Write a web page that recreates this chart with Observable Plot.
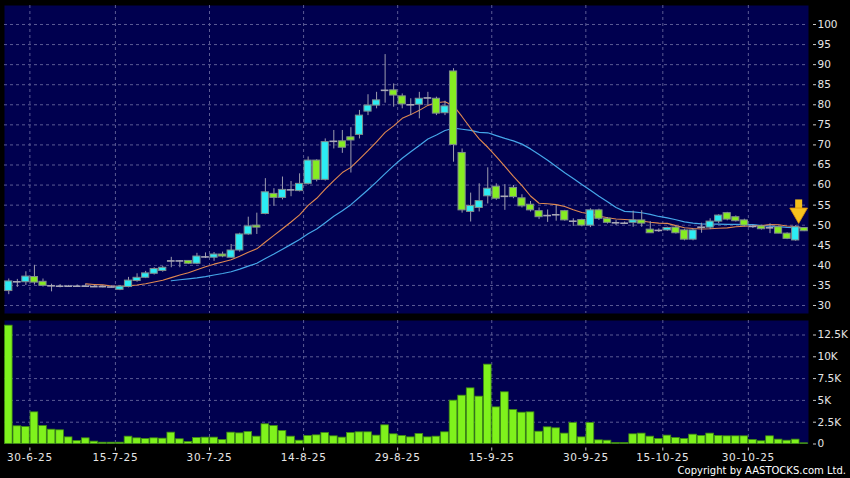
<!DOCTYPE html>
<html><head><meta charset="utf-8">
<script src="https://cdn.jsdelivr.net/npm/d3@7"></script>
<script src="https://cdn.jsdelivr.net/npm/@observablehq/plot@0.6"></script>
<style>
html,body{margin:0;padding:0;background:#000;}
#chart{position:relative;width:850px;height:478px;overflow:hidden;background:#000;}
#chart svg{display:block;}
#vol g[aria-label="x-axis tick label"] text{letter-spacing:0.7px;}
.copy{position:absolute;right:4px;top:465px;font:10px "DejaVu Sans";line-height:12px;color:#fff;white-space:nowrap;}
</style></head><body>
<div id="chart"><div id="price"></div><div id="vol"></div><div class="copy">Copyright by AASTOCKS.com Ltd.</div></div>
<script>
// ---- data ----
const dates = ["26-6-25","27-6-25","30-6-25","2-7-25","3-7-25","4-7-25","7-7-25","8-7-25","9-7-25","10-7-25",
"11-7-25","14-7-25","15-7-25","16-7-25","17-7-25","18-7-25","21-7-25","22-7-25","23-7-25","24-7-25",
"25-7-25","28-7-25","29-7-25","30-7-25","31-7-25","1-8-25","4-8-25","5-8-25","6-8-25","7-8-25",
"8-8-25","11-8-25","12-8-25","13-8-25","14-8-25","15-8-25","18-8-25","19-8-25","20-8-25","21-8-25",
"22-8-25","25-8-25","26-8-25","27-8-25","28-8-25","29-8-25","1-9-25","2-9-25","3-9-25","4-9-25",
"5-9-25","8-9-25","9-9-25","10-9-25","11-9-25","12-9-25","15-9-25","16-9-25","17-9-25","18-9-25",
"19-9-25","22-9-25","23-9-25","24-9-25","25-9-25","26-9-25","29-9-25","30-9-25","2-10-25","3-10-25",
"6-10-25","8-10-25","9-10-25","10-10-25","13-10-25","14-10-25","15-10-25","16-10-25","17-10-25","20-10-25",
"21-10-25","22-10-25","23-10-25","24-10-25","27-10-25","28-10-25","30-10-25","31-10-25","3-11-25","4-11-25",
"5-11-25","6-11-25","7-11-25","10-11-25"];
const opens = [33.6,35.9,35.8,37.1,35.9,34.9,34.8,34.8,34.8,34.8,
34.7,34.7,34.6,33.9,34.6,36.1,36.9,37.9,38.6,41.1,
41.1,41.1,40.4,42.1,41.9,42.7,41.9,43.7,47.7,49.9,
52.8,57.8,56.8,58.8,58.5,60.3,66.1,61.3,70.9,70.9,
71.9,72.5,78.3,79.8,83.6,83.6,82.1,80.0,80.0,81.7,
81.5,77.9,88.3,68.0,53.3,54.3,57.2,59.6,57.2,59.3,
56.7,55.1,53.5,52.4,52.6,53.5,51.0,51.3,49.9,53.7,
51.6,50.6,50.5,50.6,51.2,48.9,48.7,48.7,49.4,48.7,
46.4,49.5,49.4,50.9,53.0,52.0,51.2,49.7,49.7,49.35,
49.5,47.9,46.2,49.3];
const highs = [36.6,36.5,38.4,40.0,36.6,35.3,35.2,35.0,35.1,35.3,
35.0,34.9,34.9,34.9,37.0,37.9,38.5,39.4,39.7,42.0,
41.2,41.2,43.0,43.1,43.2,43.3,45.2,48.0,52.0,53.0,
61.6,59.1,62.0,60.9,62.8,67.0,66.3,71.5,73.6,73.6,
74.3,78.6,82.5,83.1,92.5,85.2,82.7,81.5,83.1,83.1,
81.9,80.9,89.0,69.0,58.0,60.3,64.3,60.3,60.1,59.9,
57.6,55.9,54.3,53.8,54.9,53.7,51.6,51.5,54.1,54.0,
51.9,51.2,50.8,53.5,53.6,50.9,49.1,49.5,49.8,49.0,
49.0,50.5,51.6,52.6,53.2,52.3,51.5,50.0,50.0,50.35,
49.7,48.1,49.9,49.4];
const lows = [32.7,34.5,35.0,35.1,34.6,33.4,34.4,34.6,34.5,34.5,
34.5,34.4,34.4,33.7,34.4,35.8,36.7,37.6,38.3,39.4,
39.4,40.2,40.2,41.7,41.0,41.9,41.8,43.3,47.5,47.7,
52.6,54.7,56.3,57.1,58.3,60.0,60.8,61.0,69.0,67.9,
63.0,71.5,77.3,79.0,80.4,79.4,79.0,77.3,76.5,79.8,
77.3,77.3,65.7,53.0,50.8,53.3,55.3,56.2,53.7,56.6,
54.3,53.3,51.4,50.7,51.0,51.0,49.7,49.6,49.4,51.2,
50.3,49.9,50.2,49.5,49.5,48.0,48.2,48.5,47.8,46.1,
46.1,48.0,48.9,50.4,51.1,50.8,49.6,49.2,48.8,47.9,
47.9,46.4,46.0,48.4];
const closes = [36.0,35.9,37.2,35.7,34.9,34.9,34.8,34.8,34.8,34.8,
34.7,34.7,34.6,34.7,36.2,36.9,38.0,39.1,39.4,41.1,
41.1,40.4,42.2,42.1,42.7,42.2,43.7,47.7,49.7,49.4,
58.2,56.8,58.8,58.8,60.3,66.1,61.3,70.7,70.9,69.3,
71.1,77.3,79.8,81.1,83.6,82.3,80.1,80.0,81.5,81.7,
77.8,79.6,70.0,53.7,54.8,56.0,59.1,56.6,57.2,57.0,
54.7,53.7,52.0,52.4,52.6,51.2,51.0,49.9,53.7,51.6,
50.6,50.6,50.5,51.2,50.4,48.0,48.7,49.3,48.0,46.4,
48.7,49.5,50.9,52.4,51.4,51.0,49.9,49.7,49.0,49.35,
47.9,46.6,49.5,48.5];
// volume in thousands of shares
const volumes = [13.57,2.03,1.95,3.63,2.06,1.64,1.57,0.76,0.34,0.65,
0.27,0.15,0.15,0.15,0.84,0.65,0.57,0.65,0.61,1.30,
0.54,0.23,0.69,0.73,0.73,0.46,1.30,1.22,1.38,0.84,
2.26,2.06,1.49,0.84,0.38,0.92,0.99,1.26,0.88,0.73,
1.26,1.34,1.34,0.96,2.14,1.11,0.92,0.76,1.15,0.76,
0.84,1.34,4.97,5.54,6.38,5.43,9.10,4.20,5.93,3.90,
3.59,3.63,1.41,1.91,1.80,1.19,2.41,0.76,2.41,0.42,
0.38,0.11,0.11,1.11,1.19,0.84,0.57,0.96,0.69,0.57,
1.07,0.92,1.19,0.92,0.88,0.88,0.88,0.46,0.31,0.88,
0.50,0.38,0.50,0.08];
const tickDates = ["30-6-25","15-7-25","30-7-25","14-8-25","29-8-25","15-9-25","30-9-25","15-10-25","30-10-25"];
const priceTicks = [30,35,40,45,50,55,60,65,70,75,80,85,90,95,100];
const volTicks = [0,2.5,5,7.5,10,12.5];
const volTickLabels = ["0","2.5K","5K","7.5K","10K","12.5K"];
const arrowNote = [{date: "7-11-25", tip: 50.8, tail: 56.3}];

// ---- build ----
const rows = dates.map((d, i) => ({i, date: d, open: opens[i], high: highs[i], low: lows[i], close: closes[i], vol: volumes[i]}));
const tickIdx = tickDates.map(d => dates.indexOf(d));
const arrows = arrowNote.map(a => ({...a, i: dates.indexOf(a.date)}));
const NAVY = "#00004f", GRID = "#5b5b94", UP = "#2cecf4", DOWN = "#86ec22", EDGE = "#7f8c8c";
const font = {background: "transparent", color: "#e6e6e6", fontFamily: "'DejaVu Sans'", fontSize: "10.5px", overflow: "visible"};
const xScale = {type: "linear", domain: [-0.5, 93.5], axis: null};

const price = Plot.plot({
  width: 850, height: 316,
  marginLeft: 4, marginRight: 42, marginTop: 5, marginBottom: 3,
  style: font,
  x: xScale,
  y: {domain: [28.007, 104.733], axis: null},
  marks: [
    Plot.frame({fill: NAVY}),
    Plot.ruleY(priceTicks, {stroke: GRID, strokeDasharray: "3,3"}),
    Plot.ruleX(tickIdx, {dx: 4, stroke: GRID, strokeDasharray: "3,3"}),
    Plot.lineY(rows, Plot.windowY({k: 20, anchor: "end", strict: true}, {x: "i", y: "close", stroke: "#45a6e8", strokeWidth: 1.2})),
    Plot.lineY(rows, Plot.windowY({k: 10, anchor: "end", strict: true}, {x: "i", y: "close", stroke: "#e08850", strokeWidth: 1.1})),
    Plot.ruleX(rows, {x: "i", y1: "low", y2: "high", stroke: "#9c9cae", strokeWidth: 1}),
    Plot.rect(rows.filter(d => d.open !== d.close), {
      x1: d => d.i - 0.42, x2: d => d.i + 0.42, y1: "open", y2: "close",
      fill: d => d.close > d.open ? UP : DOWN, stroke: EDGE, strokeWidth: 1
    }),
    Plot.ruleY(rows.filter(d => d.open === d.close), {
      y: "open", x1: d => d.i - 0.45, x2: d => d.i + 0.45, stroke: "#a9a9b6", strokeWidth: 1.6
    }),
    Plot.ruleX(arrows, {x: "i", y1: "tail", y2: d => d.tip + 3.0, dx: 3, stroke: "#f2bf1c", strokeWidth: 7}),
    Plot.dot(arrows, {x: "i", y: d => d.tip + 2.2, dx: 3, symbol: "triangle", rotate: 180, r: 6.6, fill: "#f6c21e", stroke: "#d98c08", strokeWidth: 0.8}),
    Plot.axisY(priceTicks, {anchor: "right", label: null, tickSize: 3, tickPadding: 2, dx: 4, stroke: "#c8c8c8", fill: "#e6e6e6"})
  ]
});

const vol = Plot.plot({
  width: 850, height: 162,
  marginLeft: 4, marginRight: 42, marginTop: 4, marginBottom: 34.5,
  style: font,
  x: xScale,
  y: {domain: [0, 14.163], axis: null},
  marks: [
    Plot.frame({fill: NAVY}),
    Plot.ruleY(volTicks.filter(v => v > 0), {stroke: GRID, strokeDasharray: "3,3"}),
    Plot.ruleX(tickIdx, {dx: 4, stroke: GRID, strokeDasharray: "3,3"}),
    Plot.rect(rows, {x1: d => d.i - 0.45, x2: d => d.i + 0.45, y1: 0, y2: "vol", fill: "#7ff21c", stroke: "#3f8c12", strokeWidth: 0.8}),
    Plot.axisY(volTicks, {anchor: "right", label: null, tickSize: 3, tickPadding: 2, dx: 4, tickFormat: d => volTickLabels[volTicks.indexOf(d)], stroke: "#c8c8c8", fill: "#e6e6e6"}),
    Plot.axisX(tickIdx, {anchor: "bottom", label: null, tickSize: 3, tickPadding: 3, dx: 4, dy: 4, tickFormat: i => dates[i], stroke: "#c8c8c8", fill: "#e6e6e6"})
  ]
});

document.getElementById("price").append(price);
document.getElementById("vol").append(vol);
</script>
</body></html>
